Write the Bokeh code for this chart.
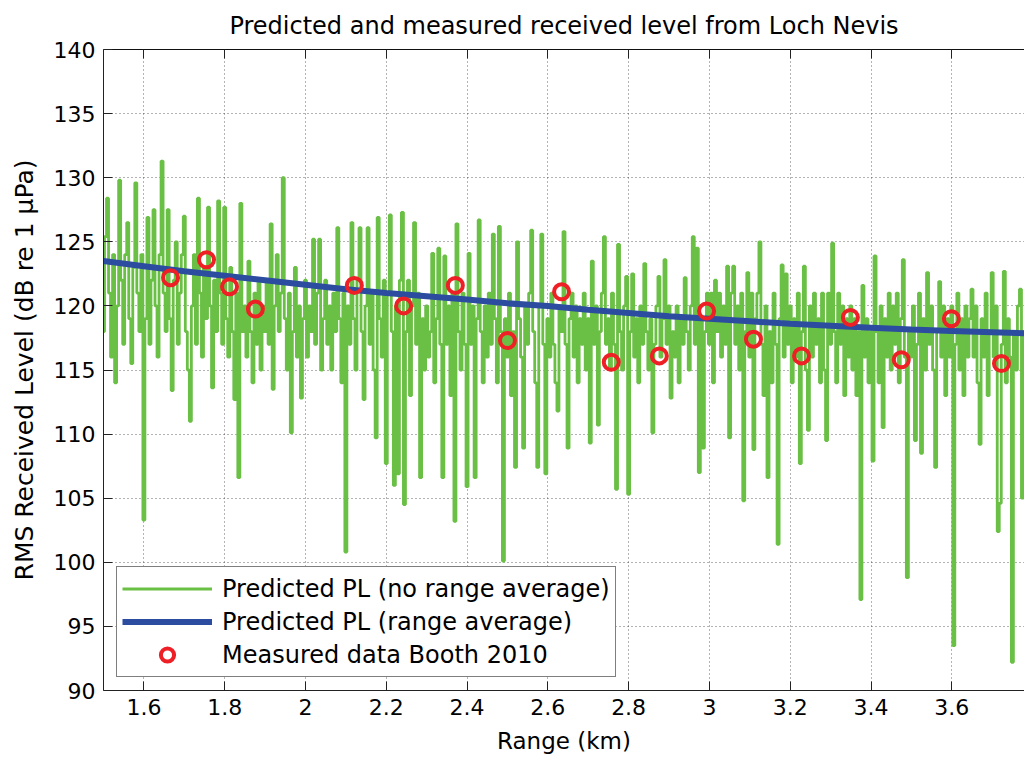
import numpy as np
from bokeh.plotting import figure
from bokeh.models import LinearAxis, FixedTicker, Legend, LegendItem, Range1d
from bokeh.embed import file_html
from bokeh.resources import INLINE

# ---------------- data ----------------
range_start_km = 1.5
range_step_km = 0.005

# Predicted PL, no range average (dB re 1 uPa), one value every 0.005 km from 1.5 km
pl_no_avg = [
    118, 125.4, 128.4, 121, 116, 124, 114, 120, 129.8, 122,
    117, 124, 126.5, 119, 115.5, 123, 129.6, 121, 118, 124,
    103.3, 119, 126.9, 117, 122, 127.5, 120, 116, 124, 131.3,
    121, 118, 127.5, 119, 113.4, 122, 125, 117, 121, 124,
    127, 118, 115, 111.0, 120, 124, 117, 128.4, 121, 116,
    123, 119, 127.7, 120, 113.6, 122, 118, 128.2, 121, 117,
    127.7, 119, 116, 123, 118, 112.7, 121, 106.6, 128, 118,
    120, 116, 123.5, 118, 114, 121, 117, 122, 115, 120,
    118, 122, 117, 126.4, 113.5, 120, 124, 118, 121, 130.0,
    119, 115, 121, 110.1, 118, 123, 116, 120, 112.8, 119,
    122, 116, 120, 118, 125.2, 117, 121, 125.2, 115, 119,
    122, 117, 120, 115, 121, 118, 126.1, 119, 114, 121,
    100.8, 120, 117, 126.5, 119, 115, 122, 126.1, 118, 112.7,
    120, 126.1, 117, 121, 115, 109.7, 126.9, 119, 116, 122,
    107.7, 121, 127.1, 118, 106, 120, 106.9, 122, 127.3, 104.5,
    118, 122, 113, 120, 126.5, 117, 121, 106.6, 119, 115,
    120, 116, 118, 124.1, 114, 119, 124.5, 117, 106.6, 123.9,
    117, 120, 113, 121, 103.2, 126.4, 118, 115, 121, 117,
    105.9, 124.1, 117, 120, 106.6, 119, 126.7, 118, 114, 120,
    116, 121, 117, 125.6, 119, 114, 126.2, 118, 100.1, 119,
    116, 121, 113, 118, 107.4, 125, 119, 116, 108.9, 120,
    117, 121, 125.9, 118, 114, 107.4, 120, 125.6, 117, 106.9,
    119, 116, 121, 117, 114, 111.8, 120, 118, 125.8, 117,
    108.9, 119, 121, 116, 120, 114, 119, 117, 121, 115,
    119, 109.3, 123.5, 117, 120, 110.7, 118, 121, 125.4, 117,
    119, 115, 121, 117, 105.7, 124.8, 118, 115, 120, 122.3,
    105.3, 118, 122.5, 116, 119, 114, 120, 117, 123.3, 118,
    115, 119, 110.1, 117, 120, 122.3, 116, 119, 123.6, 117,
    120, 112.8, 118, 116, 120, 114, 119, 117, 122.2, 118,
    115, 120, 125.4, 117, 124.5, 107, 119, 108.9, 118, 121,
    117, 121, 114, 122, 118, 121, 116, 120, 117, 123.1,
    109.7, 121, 123.1, 117, 120, 115, 121, 104.8, 118, 122.6,
    116, 121, 108.8, 119, 121, 125, 117, 113, 120, 106.6,
    118, 114, 121, 117, 101.4, 119, 123.2, 116, 122.5, 117,
    120, 114, 119, 116, 121, 107.7, 118, 123.1, 115, 110.3,
    120, 116, 121, 117, 119, 114, 121, 115, 109.5, 121,
    117, 124.9, 118, 114, 121, 117, 120, 113, 119, 116,
    120, 115, 119, 113, 118, 97.1, 121.6, 116, 119, 114,
    118, 107.9, 123.9, 118, 114, 120, 110.5, 119, 116, 121,
    115, 120, 117, 121, 114, 119, 123.6, 116, 98.8, 118,
    116, 120, 109.5, 117, 121, 108.5, 119, 115, 122.6, 117,
    120, 115, 107.4, 118, 121.9, 116, 120, 113, 119, 116,
    120, 93.5, 117, 121, 115, 119, 113, 120, 116, 119,
    121.3, 116, 120, 114, 109.2, 119, 116, 121, 113, 118,
    122.6, 116, 120, 102.4, 104.6, 117, 122.7, 114, 119, 116,
    92.2, 118, 115, 120, 121.3, 105, 118,
]

# Predicted PL, range average
avg_range_km = [1.5, 1.6, 1.7, 1.8, 1.9, 2.0, 2.1, 2.2, 2.3, 2.4, 2.5, 2.6,
                2.7, 2.8, 2.9, 3.0, 3.1, 3.2, 3.3, 3.4, 3.5, 3.6, 3.7, 3.8]
pl_avg = [123.5, 123.1, 122.7, 122.35, 122.0, 121.65, 121.3, 121.0, 120.75, 120.5,
          120.2, 120.0, 119.7, 119.45, 119.2, 119.0, 118.8, 118.6, 118.45, 118.3,
          118.15, 118.05, 117.95, 117.85]

# Measured data, Booth 2010
meas_range_km = [1.666, 1.755, 1.812, 1.876, 2.121, 2.243, 2.371, 2.500, 2.634,
                 2.757, 2.876, 2.993, 3.109, 3.228, 3.349, 3.475, 3.599, 3.723]
meas_level = [122.2, 123.6, 121.5, 119.75, 121.6, 120.0, 121.6, 117.3, 121.1,
              115.6, 116.1, 119.6, 117.4, 116.1, 119.1, 115.8, 119.0, 115.5]

x_ticks = [1.6, 1.8, 2.0, 2.2, 2.4, 2.6, 2.8, 3.0, 3.2, 3.4, 3.6]
x_tick_labels = ["1.6", "1.8", "2", "2.2", "2.4", "2.6", "2.8", "3", "3.2", "3.4", "3.6"]
y_ticks = [90, 95, 100, 105, 110, 115, 120, 125, 130, 135, 140]
y_tick_labels = ["90", "95", "100", "105", "110", "115", "120", "125", "130", "135", "140"]

x_green = range_start_km + range_step_km * np.arange(len(pl_no_avg))

# ---------------- figure ----------------
FONT = "DejaVu Sans"
p = figure(width=1024, height=763,
           x_range=Range1d(1.5, 3.78), y_range=Range1d(90, 140),
           output_backend="svg", toolbar_location=None,
           min_border_left=103, min_border_right=0,
           min_border_top=48, min_border_bottom=73,
           title="Predicted and measured received level from Loch Nevis")
p.outline_line_color = None
p.background_fill_color = "white"
p.border_fill_color = "white"

p.title.text_font = FONT
p.title.text_font_size = "24px"
p.title.text_font_style = "normal"
p.title.text_color = "black"
p.title.align = "center"
p.title.standoff = 19

green = p.step(x_green, pl_no_avg, mode="center", line_color="#6abf45", line_width=2.8)
blue = p.line(avg_range_km, pl_avg, line_color="#2c4c9f", line_width=6)
red = p.scatter(meas_range_km, meas_level, marker="circle", size=15,
                fill_color=None, line_color="#ee1f25", line_width=4)

for ax, ticks, labels in ((p.xaxis[0], x_ticks, x_tick_labels), (p.yaxis[0], y_ticks, y_tick_labels)):
    ax.ticker = FixedTicker(ticks=ticks)
    ax.major_label_overrides = dict(zip(ticks, labels))
    ax.major_tick_in = 9
    ax.major_tick_out = 0
    ax.minor_tick_line_color = None
    ax.axis_line_color = "#222222"
    ax.major_tick_line_color = "#222222"
    ax.major_label_text_font = FONT
    ax.major_label_text_font_size = "22px"
    ax.major_label_text_color = "black"
    ax.axis_label_text_font = FONT
    ax.axis_label_text_font_style = "normal"
    ax.axis_label_text_color = "black"

p.xaxis[0].axis_label = "Range (km)"
p.xaxis[0].axis_label_text_font_size = "23px"
p.xaxis[0].major_label_standoff = 8
p.xaxis[0].axis_label_standoff = 10
p.yaxis[0].axis_label = "RMS Received Level (dB re 1 \u03bcPa)"
p.yaxis[0].axis_label_text_font_size = "25px"
p.yaxis[0].major_label_standoff = 8
p.yaxis[0].axis_label_standoff = 12

top = LinearAxis(ticker=FixedTicker(ticks=x_ticks), major_label_text_font_size="1px",
                 major_label_text_color=None,
                 major_label_standoff=0, major_tick_in=9, major_tick_out=0,
                 minor_tick_line_color=None, axis_line_color="#111111",
                 major_tick_line_color="#222222")
p.add_layout(top, "above")

for g in (p.xgrid[0], p.ygrid[0]):
    g.grid_line_color = "#333333"
    g.grid_line_alpha = 0.75
    g.grid_line_dash = "1 3"
    g.grid_line_width = 1
p.xgrid[0].ticker = FixedTicker(ticks=x_ticks)
p.ygrid[0].ticker = FixedTicker(ticks=y_ticks)

legend = Legend(items=[
    LegendItem(label="Predicted PL (no range average)", renderers=[green]),
    LegendItem(label="Predicted PL (range average)", renderers=[blue]),
    LegendItem(label="Measured data Booth 2010", renderers=[red]),
], location="bottom_left", margin=13, padding=5, spacing=0,
    glyph_width=90, glyph_height=33, label_height=33, label_standoff=10,
    label_text_font=FONT, label_text_font_size="24px", label_text_color="black",
    border_line_color="black", border_line_width=1, background_fill_color="white",
    background_fill_alpha=1.0)
p.add_layout(legend)

open("out.html", "w").write(file_html(p, INLINE))
